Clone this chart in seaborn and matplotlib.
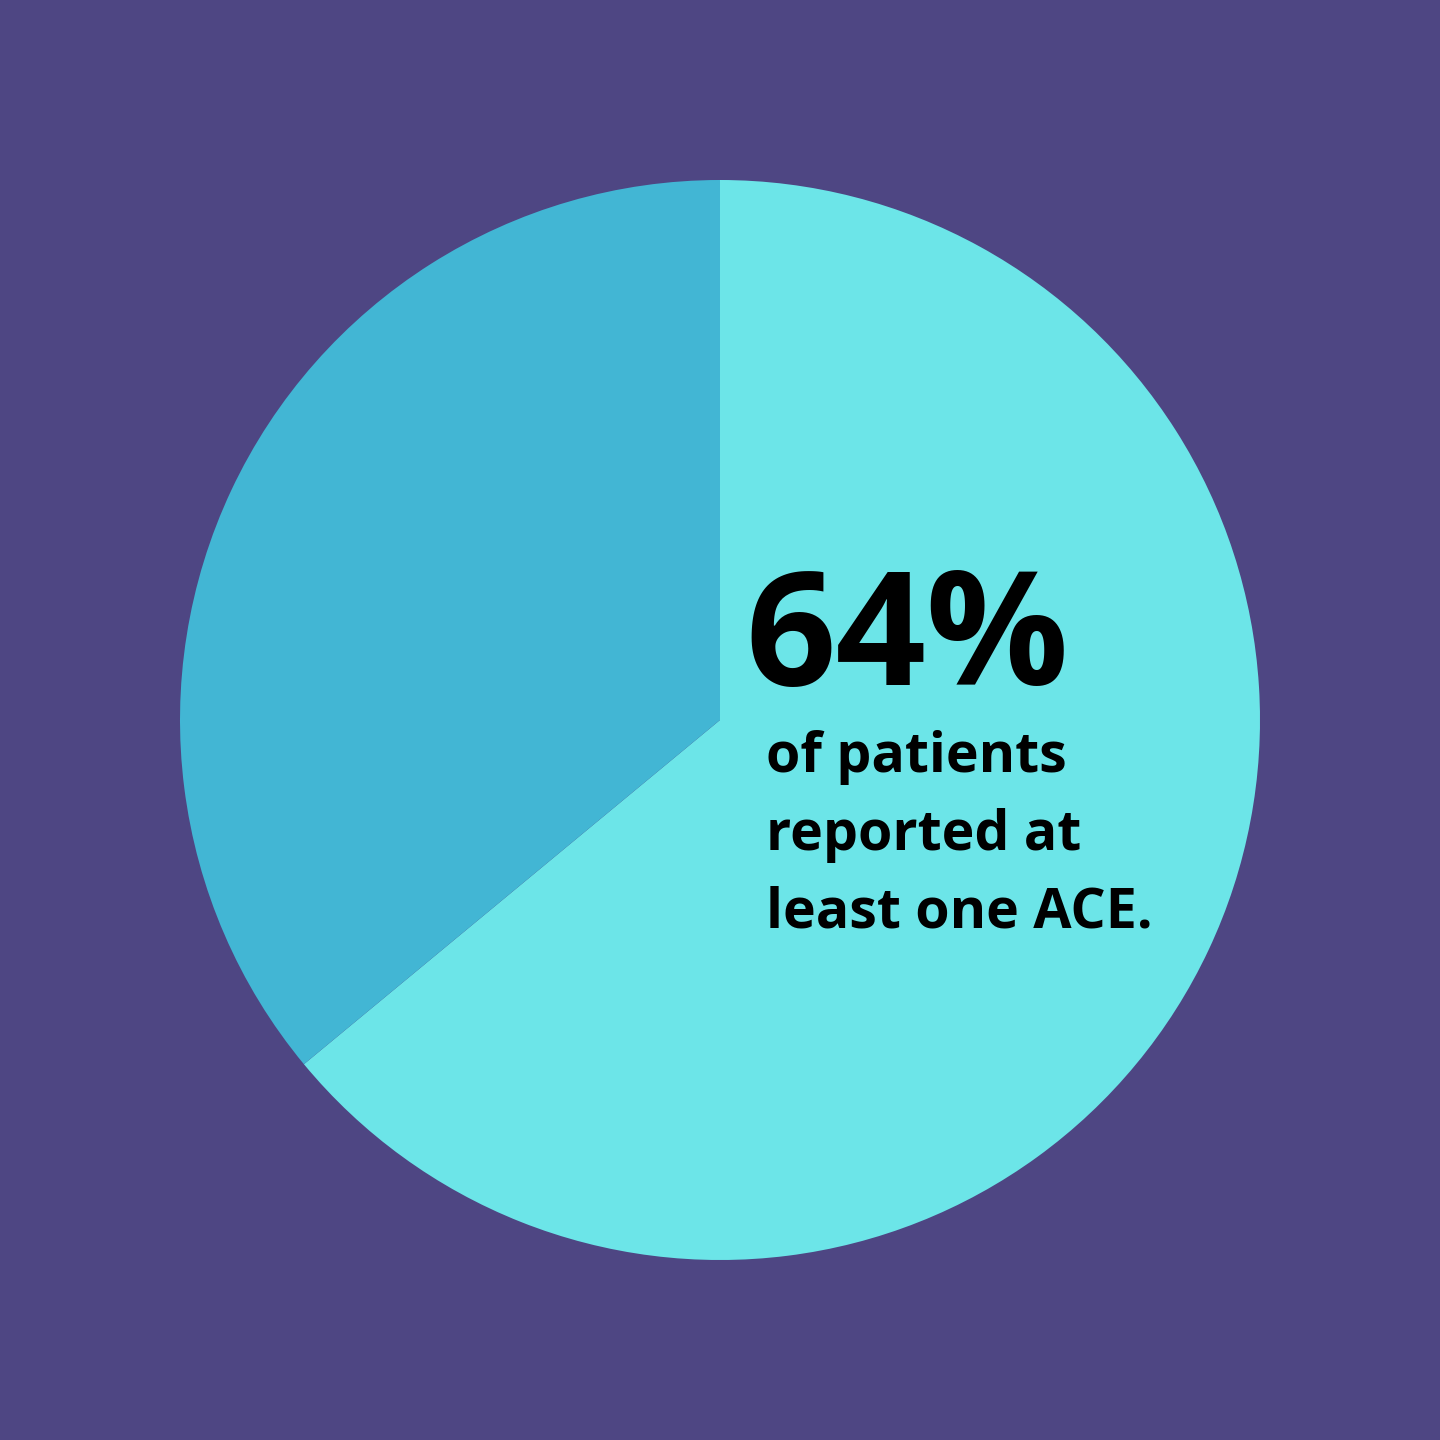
import matplotlib
matplotlib.use("Agg")
import matplotlib.pyplot as plt
import seaborn as sns

# data
labels = ["At least one ACE", "No ACE"]
shares = [64, 36]
colors = ["#6ce5e8", "#42b6d4"]
headline = "64%"
caption = ["of patients", "reported at", "least one ACE."]

bg = "#4e4683"

sns.set_theme(style="white")
plt.rcParams["font.family"] = ["Open Sans", "DejaVu Sans"]

fig = plt.figure(figsize=(14.4, 14.4), dpi=100, facecolor=bg)
ax = fig.add_axes([0, 0, 1, 1])
ax.set_facecolor(bg)

ax.pie(shares, colors=colors, startangle=90, counterclock=False,
       radius=1.0, wedgeprops=dict(linewidth=0))
ax.set_xlim(-720 / 540, 720 / 540)
ax.set_ylim(-720 / 540, 720 / 540)
ax.set_aspect("equal")
ax.axis("off")

# headline and caption, placed in pixel terms of the figure
W = 1440
fig.text(745 / W, 1 - 685 / W, headline, fontsize=114, fontweight="bold",
         color="black", ha="left", va="baseline")
for i, line in enumerate(caption):
    fig.text(766 / W, 1 - (772 + 78 * i) / W, line, fontsize=40,
             fontweight="bold", color="black", ha="left", va="baseline")

fig.savefig("out.png", dpi=100, facecolor=bg)
